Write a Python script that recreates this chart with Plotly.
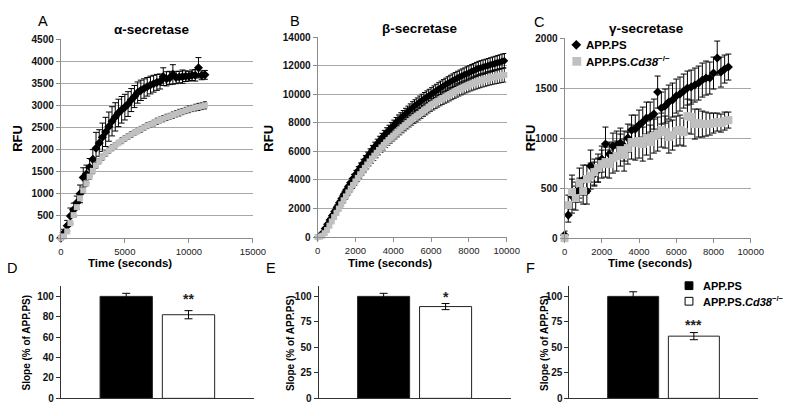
import plotly.graph_objects as go

FONT = "Liberation Sans, Arial, sans-serif"

# ---------------- Panel A : alpha-secretase ----------------
alpha_time = [0, 250, 500, 750, 1000, 1250, 1500, 1750, 2000, 2250, 2500, 2750, 3000, 3250, 3500,
              3750, 4000, 4250, 4500, 4750, 5000, 5250, 5500, 5750, 6000, 6250, 6500, 6750, 7000,
              7250, 7500, 7750, 8000, 8250, 8500, 8750, 9000, 9250, 9500, 9750, 10000, 10250,
              10500, 10750, 11000, 11250]
alpha_app = [0, 120, 280, 500, 640, 800, 1000, 1370, 1450, 1600, 1780, 2030, 2150, 2280, 2400,
             2520, 2640, 2740, 2830, 2900, 2960, 3030, 3120, 3200, 3290, 3340, 3380, 3420, 3460,
             3490, 3520, 3540, 3650, 3600, 3620, 3700, 3630, 3640, 3650, 3660, 3660, 3680,
             3680, 3850, 3680, 3690]
alpha_app_err = [30, 80, 120, 180, 150, 150, 200, 220, 200, 200, 220, 360, 300, 320, 330,
                 330, 330, 320, 310, 300, 290, 280, 260, 250, 240, 230, 220, 210, 200,
                 190, 180, 170, 200, 160, 150, 220, 140, 130, 150, 120, 110, 120,
                 130, 230, 100, 100]
alpha_ko = [0, 40, 150, 340, 520, 700, 900, 1080, 1240, 1390, 1520, 1640, 1740, 1830, 1910,
            1980, 2040, 2100, 2150, 2200, 2250, 2300, 2340, 2380, 2420, 2460, 2500, 2540, 2570,
            2600, 2640, 2670, 2700, 2730, 2755, 2780, 2810, 2835, 2860, 2885, 2910, 2930,
            2950, 2965, 2980, 3000]
alpha_ko_err = [10, 20, 30, 40, 50, 50, 55, 60, 60, 60, 65, 60, 60, 65, 60,
                60, 65, 60, 60, 65, 60, 60, 65, 60, 60, 65, 60, 65, 60,
                65, 70, 65, 70, 70, 65, 70, 70, 75, 70, 70, 75, 70,
                75, 80, 75, 80]

# ---------------- Panel B : beta-secretase ----------------
beta_time = [0, 125, 250, 375, 500, 625, 750, 875, 1000, 1125, 1250, 1375, 1500, 1625, 1750, 1875,
             2000, 2125, 2250, 2375, 2500, 2625, 2750, 2875, 3000, 3125, 3250, 3375, 3500, 3625,
             3750, 3875, 4000, 4125, 4250, 4375, 4500, 4625, 4750, 4875, 5000, 5125, 5250, 5375,
             5500, 5625, 5750, 5875, 6000, 6125, 6250, 6375, 6500, 6625, 6750, 6875, 7000, 7125,
             7250, 7375, 7500, 7625, 7750, 7875, 8000, 8125, 8250, 8375, 8500, 8625, 8750, 8875,
             9000, 9125, 9250, 9375, 9500, 9625, 9750, 9875]
beta_app = [0, 100, 300, 600, 900, 1200, 1500, 1800, 2100, 2400, 2700, 3000, 3300, 3580, 3850, 4130,
            4400, 4650, 4900, 5150, 5400, 5630, 5850, 6080, 6300, 6500, 6700, 6900, 7100, 7280,
            7450, 7630, 7800, 7980, 8150, 8300, 8450, 8600, 8750, 8900, 9050, 9180, 9300, 9430,
            9550, 9670, 9780, 9890, 10000, 10120, 10230, 10340, 10450, 10550, 10650, 10750, 10850, 10940,
            11030, 11120, 11200, 11280, 11350, 11430, 11500, 11580, 11650, 11730, 11800, 11850, 11900, 11950,
            12000, 12050, 12100, 12150, 12200, 12250, 12300, 12340]
beta_app_err = [0, 30, 50, 80, 100, 115, 130, 145, 160, 175, 190, 205, 220, 235, 250, 260,
                270, 280, 290, 300, 310, 320, 330, 340, 350, 355, 360, 365, 370, 375,
                380, 385, 390, 395, 400, 405, 410, 415, 420, 425, 430, 435, 440, 445,
                450, 452, 455, 457, 460, 462, 465, 467, 470, 472, 475, 477, 480, 482,
                485, 487, 490, 490, 490, 492, 495, 495, 495, 497, 500, 500, 500, 500,
                500, 502, 505, 505, 505, 507, 510, 510]
beta_ko = [0, 30, 100, 280, 500, 800, 1100, 1400, 1700, 2000, 2300, 2580, 2850, 3130, 3400, 3650,
           3900, 4150, 4400, 4630, 4850, 5080, 5300, 5500, 5700, 5900, 6100, 6280, 6450, 6630,
           6800, 6950, 7100, 7250, 7400, 7550, 7700, 7840, 7980, 8120, 8250, 8380, 8500, 8630,
           8750, 8880, 9000, 9130, 9250, 9350, 9450, 9550, 9650, 9740, 9830, 9910, 10000, 10090,
           10180, 10270, 10350, 10430, 10500, 10580, 10650, 10720, 10780, 10840, 10900, 10950, 11000, 11050,
           11100, 11140, 11180, 11220, 11250, 11290, 11320, 11350]
beta_ko_err = [0, 15, 30, 50, 70, 90, 110, 130, 150, 165, 180, 195, 210, 225, 240, 250,
               260, 270, 280, 290, 300, 310, 320, 330, 340, 345, 350, 355, 360, 365,
               370, 375, 380, 385, 390, 395, 400, 405, 410, 415, 420, 425, 430, 435,
               440, 442, 445, 447, 450, 452, 455, 457, 460, 462, 465, 467, 470, 472,
               475, 477, 480, 480, 480, 482, 485, 485, 485, 487, 490, 490, 490, 492,
               495, 495, 495, 497, 500, 500, 500, 500]

# ---------------- Panel C : gamma-secretase ----------------
gamma_time = [0, 200, 400, 600, 800, 1000, 1200, 1400, 1600, 1800, 2000, 2200, 2400, 2600,
              2800, 3000, 3200, 3400, 3600, 3800, 4000, 4200, 4400, 4600, 4800, 5000, 5200,
              5400, 5600, 5800, 6000, 6200, 6400, 6600, 6800, 7000, 7200, 7400, 7600, 7800,
              8000, 8200, 8400, 8600, 8800]
gamma_app = [30, 230, 420, 460, 480, 580, 470, 720, 640, 680, 790, 940, 840, 920,
             930, 950, 920, 1000, 1080, 1090, 1130, 1160, 1200, 1210, 1240, 1460, 1300,
             1320, 1360, 1380, 1420, 1440, 1470, 1500, 1510, 1530, 1550, 1580, 1600, 1600,
             1650, 1800, 1660, 1690, 1710]
gamma_app_err = [40, 70, 170, 100, 120, 150, 130, 160, 120, 120, 130, 170, 120, 130,
                 140, 150, 150, 140, 150, 140, 150, 150, 160, 150, 150, 160, 160,
                 170, 170, 170, 170, 170, 170, 170, 170, 170, 170, 170, 170, 160,
                 160, 170, 150, 140, 130]
gamma_ko = [0, 330, 460, 400, 550, 470, 590, 620, 660, 700, 740, 760, 740, 800,
            820, 880, 830, 900, 960, 950, 970, 940, 1000, 960, 1020, 1040, 1080,
            1060, 1010, 1030, 1070, 1080, 1060, 1220, 1210, 1140, 1150, 1140, 1140, 1140,
            1150, 1160, 1150, 1170, 1180]
gamma_ko_err = [10, 100, 170, 120, 150, 130, 140, 130, 130, 140, 140, 150, 140, 150,
                150, 160, 160, 160, 170, 170, 170, 170, 170, 170, 170, 170, 170,
                160, 160, 150, 150, 150, 140, 170, 170, 150, 140, 130, 120, 110,
                100, 90, 90, 90, 80]

# ---------------- Panels D-F : slopes ----------------
groups = [0, 1]
group_names = ["APP.PS", "APP.PS.<i>Cd38</i><sup>\u2212/\u2212</sup>"]
d_slope = [100, 82]
d_err = [3, 4]
e_slope = [100, 90]
e_err = [3, 3]
f_slope = [100, 61]
f_err = [4.5, 3.5]
stars = ["**", "*", "***"]
d_ticks = [0, 20, 40, 60, 80, 100]
ef_ticks = [0, 25, 50, 75, 100]

BLACK = "#000000"
GRAY = "#c0c0c0"


def X(px):
    return px / 800.0


def Y(py):
    return 1 - py / 416.0


fig = go.Figure()


def series(x, y, err, sym, color, size, xa, ya, thick=0.9, cap=2):
    fig.add_trace(go.Scatter(
        x=x, y=y, mode="markers", xaxis=xa, yaxis=ya, showlegend=False, cliponaxis=False,
        hoverinfo="skip",
        marker=dict(symbol=sym, color=color, size=size, line=dict(width=0)),
        error_y=dict(type="data", array=err, visible=True, color="black", thickness=thick, width=cap)))


series(alpha_time, alpha_app, alpha_app_err, "diamond", BLACK, 7, "x", "y", 1, 3)
series(alpha_time, alpha_ko, alpha_ko_err, "square", GRAY, 6, "x", "y", 1, 2)
series(beta_time, beta_app, beta_app_err, "diamond", BLACK, 6, "x2", "y2", 1, 2)
series(beta_time, beta_ko, beta_ko_err, "square", GRAY, 6, "x2", "y2", 0.8, 2)
series(gamma_time, gamma_app, gamma_app_err, "diamond", BLACK, 7, "x3", "y3", 1, 3)
series(gamma_time, gamma_ko, gamma_ko_err, "square", GRAY, 8, "x3", "y3", 1, 3)

for vals, errs, xa, ya in [(d_slope, d_err, "x4", "y4"), (e_slope, e_err, "x5", "y5"),
                           (f_slope, f_err, "x6", "y6")]:
    fig.add_trace(go.Bar(
        x=groups, y=vals, width=0.84, xaxis=xa, yaxis=ya, showlegend=False, hoverinfo="skip",
        marker=dict(color=[BLACK, "#ffffff"], line=dict(color="#222222", width=1)),
        error_y=dict(type="data", array=errs, visible=True, color="black", thickness=1, width=4)))

top_x = dict(showline=True, linecolor="#8c8c8c", linewidth=1, ticks="outside", ticklen=4,
             tickcolor="#8c8c8c", showgrid=False, zeroline=False, tickformat="d",
             tickfont=dict(family=FONT, size=9.5, color="#222"))
top_y = dict(showline=True, linecolor="#8c8c8c", linewidth=1, ticks="outside", ticklen=4,
             tickcolor="#8c8c8c", showgrid=True, gridcolor="#a8a8a8", gridwidth=1, zeroline=False,
             tickformat="d", tickfont=dict(family=FONT, size=10, color="#111", weight="bold"))
bot_x = dict(showline=True, linecolor="#333", linewidth=1, ticks="", showticklabels=False,
             showgrid=False, zeroline=False, range=[-1.05, 2.05])
bot_y = dict(showline=True, linecolor="#333", linewidth=1, ticks="outside", ticklen=4,
             tickcolor="#333", showgrid=False, zeroline=False, range=[0, 110],
             tickfont=dict(family=FONT, size=10, color="#111", weight="bold"))

yb = [Y(404), Y(288.5)]
fig.update_layout(
    width=800, height=416, autosize=False,
    margin=dict(l=0, r=0, t=0, b=0),
    paper_bgcolor="white", plot_bgcolor="white",
    font=dict(family=FONT, color="black"),
    xaxis=dict(top_x, domain=[X(59), X(255)], range=[0, 15000], tickvals=[0, 5000, 10000, 15000], anchor="y"),
    yaxis=dict(top_y, domain=[Y(239), Y(34)], range=[0, 4500], dtick=500, anchor="x"),
    xaxis2=dict(top_x, domain=[X(321), X(514)], range=[0, 10000], dtick=2000, anchor="y2"),
    yaxis2=dict(top_y, domain=[Y(238), Y(32)], range=[0, 14000], dtick=2000, anchor="x2"),
    xaxis3=dict(top_x, domain=[X(573), X(763)], range=[0, 10000], dtick=2000, anchor="y3"),
    yaxis3=dict(top_y, domain=[Y(239), Y(33)], range=[0, 2000], dtick=500, anchor="x3"),
    xaxis4=dict(bot_x, domain=[X(59), X(256)], anchor="y4"),
    yaxis4=dict(bot_y, domain=yb, tickvals=d_ticks, anchor="x4"),
    xaxis5=dict(bot_x, domain=[X(322), X(518)], anchor="y5"),
    yaxis5=dict(bot_y, domain=yb, tickvals=ef_ticks, anchor="x5"),
    xaxis6=dict(bot_x, domain=[X(578), X(770)], anchor="y6"),
    yaxis6=dict(bot_y, domain=yb, tickvals=ef_ticks, anchor="x6"),
)

ann = []


def txt(text, px, py, size, bold=False, angle=0, xanchor="center", color="black"):
    ann.append(dict(text=text, x=X(px), y=Y(py), xref="paper", yref="paper", showarrow=False,
                    xanchor=xanchor, yanchor="middle", textangle=angle,
                    font=dict(family=FONT, size=size, color=color, weight="bold" if bold else "normal")))


# panel letters
for letter, px, py in [("A", 41, 15), ("B", 298, 15), ("C", 547, 16),
                       ("D", 9, 270), ("E", 273, 270), ("F", 538, 270)]:
    txt(letter, px, py, 14.5)
# titles
txt("\u03b1-secretase", 152, 24, 13.5, bold=True)
txt("\u03b2-secretase", 425, 23, 13.5, bold=True)
txt("\u03b3-secretase", 657, 23, 13.5, bold=True)
# axis titles
for cx in [130, 395, 660]:
    txt("Time (seconds)", cx, 265, 11.5, bold=True)
for cx in [14, 270, 538]:
    txt("RFU", cx, 136, 13, bold=True, angle=-90)
for cx in [24, 294, 553]:
    txt("Slope (% of APP.PS)", cx, 347, 10, bold=True, angle=-90)

# significance stars
for s, vals, errs, xa, ya, off in [(stars[0], d_slope, d_err, "x4", "y4", 11),
                                   (stars[1], e_slope, e_err, "x5", "y5", 6),
                                   (stars[2], f_slope, f_err, "x6", "y6", 7)]:
    ann.append(dict(text=s, x=groups[1], y=vals[1] + errs[1] + off, xref=xa, yref=ya,
                    showarrow=False, xanchor="center", yanchor="middle",
                    font=dict(family=FONT, size=14, color="#222", weight="bold")))

# legend (panel C)
txt(group_names[0], 593, 40, 11.5, bold=True, xanchor="left")
txt(group_names[1], 593, 57, 11.5, bold=True, xanchor="left")
# legend (panel F)
txt(group_names[0], 712, 288, 11, bold=True, xanchor="left")
txt(group_names[1], 712, 304, 11, bold=True, xanchor="left")

shapes = [
    dict(type="path", xref="paper", yref="paper",
         path="M %f,%f L %f,%f L %f,%f L %f,%f Z" % (X(580), Y(40), X(585), Y(35), X(590), Y(40), X(585), Y(45)),
         fillcolor=BLACK, line=dict(width=0)),
    dict(type="rect", xref="paper", yref="paper", x0=X(581), x1=X(590), y0=Y(61.5), y1=Y(52.5),
         fillcolor=GRAY, line=dict(width=0)),
    dict(type="rect", xref="paper", yref="paper", x0=X(696), x1=X(704), y0=Y(292), y1=Y(284),
         fillcolor=BLACK, line=dict(color="black", width=1)),
    dict(type="rect", xref="paper", yref="paper", x0=X(696), x1=X(704), y0=Y(308), y1=Y(300),
         fillcolor="white", line=dict(color="black", width=1)),
]

fig.update_layout(annotations=ann, shapes=shapes, hovermode=False)
fig.write_html("out.html", config={"displayModeBar": False, "staticPlot": True},
               post_script="document.body.style.margin='0';document.body.style.overflow='hidden';")
